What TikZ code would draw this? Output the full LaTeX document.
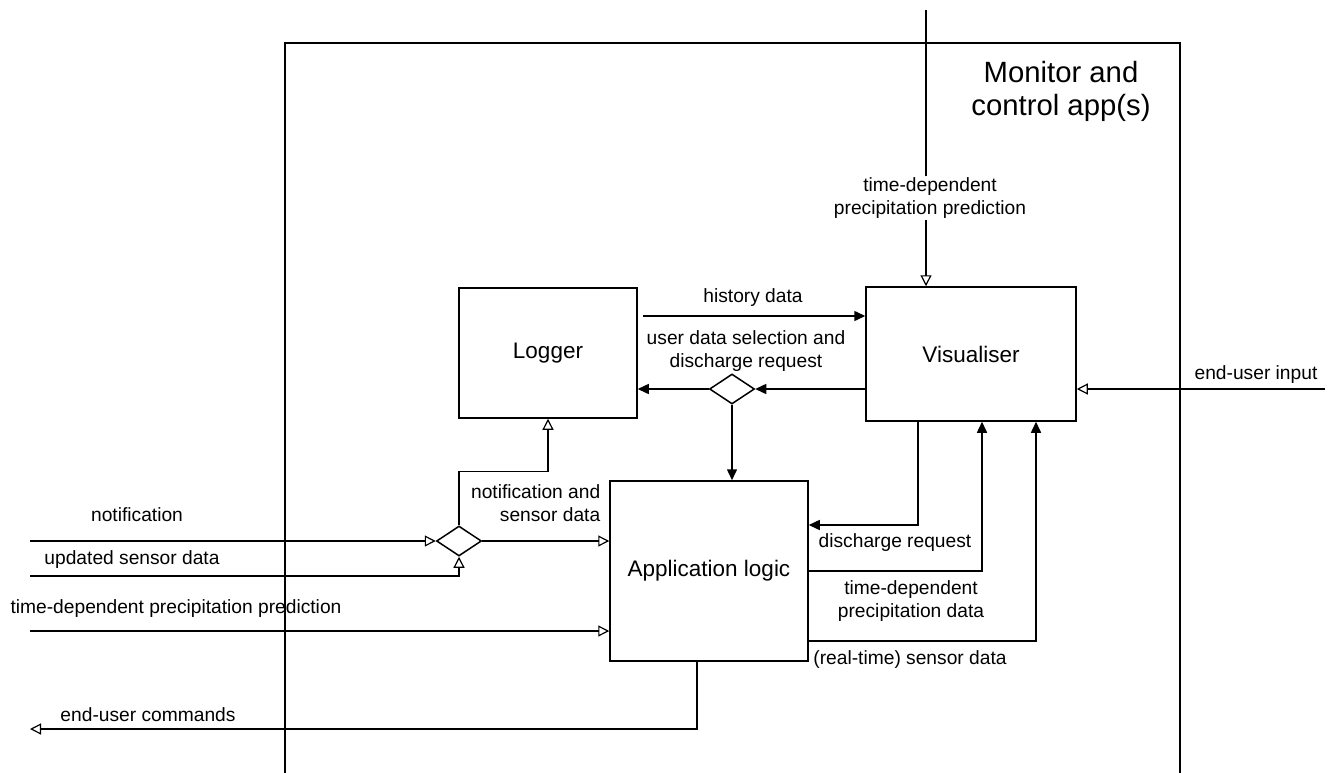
\documentclass[tikz,border=0pt]{standalone}
\usepackage{fontspec}
\setmainfont{Liberation Sans}
\usetikzlibrary{arrows.meta,shapes.geometric,calc}
\begin{document}
\begin{tikzpicture}[x=1pt,y=-1pt,
  line width=1.5pt,
  box/.style={draw,line width=1.5pt,inner sep=0pt,font=\fontsize{22.5}{27}\selectfont},
  junction/.style={draw,line width=1.5pt,shape=diamond,minimum width=45pt,minimum height=30pt,inner sep=0pt},
  lbl/.style={inner sep=1pt,align=center,font=\fontsize{19.2}{23}\selectfont},
  fa/.style={-{Triangle[length=11pt,width=10pt]}},
  oa/.style={-{Triangle[open,length=11pt,width=11pt,line width=1.2pt]}},
  oas/.style={{Triangle[open,length=11pt,width=11pt,line width=1.2pt]}-}]
\useasboundingbox (0,0) rectangle (1330,773);

% container of the applications (open at the bottom)
\draw[line width=1.5pt] (285,773) -- (285,43) -- (1180,43) -- (1180,773);
\node[lbl,font=\fontsize{29.3}{33}\selectfont] (title) at (1061,91) {Monitor and\\control app(s)};

% components
\node[box,minimum width=178pt,minimum height=130pt] (Logger) at (548,353) {Logger};
\node[box,minimum width=210pt,minimum height=134pt] (Vis) at (971,354) {Visualiser};
\node[box,minimum width=198pt,minimum height=180pt] (App) at (709,571) {Application logic};
\node[junction] (D1) at (732,389) {};
\node[junction] (D2) at (459,541) {};

% free ends of external flows
\coordinate (pin) at (926,10);
\coordinate (uin) at (1325,389);
\coordinate (nin) at (30,541);
\coordinate (usd) at (30,576);
\coordinate (ppin) at (30,631);
\coordinate (cmd) at (30,729);
\coordinate (hd) at (643,316);

% external inputs
\draw[oa] (pin) -- (pin |- Vis.north);
\node[lbl,fill=white,inner ysep=2pt] (lpin) at (930,198) {time-dependent\\precipitation prediction};
\draw[oa] (uin) -- (uin -| Vis.east);
\node[lbl] (luin) at (1256,375) {end-user input};
\draw[oa] (nin) -- (D2.west);
\node[lbl] (lnin) at (137,515) {notification};
\draw[oa] (usd) -| (D2.south);
\node[lbl] (lusd) at (132,560) {updated sensor data};
\draw[oa] (ppin) -- (ppin -| App.west);
\node[lbl] (lppin) at (176,609) {time-dependent precipitation prediction};
\draw[oas] (cmd) -| ([xshift=-12pt]App.south);
\node[lbl] (lcmd) at (148,715) {end-user commands};

% logger and visualiser
\draw[fa] (hd) -- (hd -| Vis.west);
\node[lbl] (lhd) at (753,298) {history data};
\draw[fa] (Vis.west |- D1) -- (D1.east);
\draw[fa] (D1.west) -- (D1 -| Logger.east);
\draw[fa] (D1.south) -- (D1 |- App.north);
\node[lbl] (lsel) at (746,351) {user data selection and\\discharge request};

% sensor data junction
\draw[oa] (D2.north) -- ++(0,-54) -| (Logger.south);
\draw[oa] (D2.east) -- (D2 -| App.west);
\node[lbl,align=right,anchor=east] (lns) at (602,503.5) {notification and\\sensor data};

% application logic and visualiser
\draw[fa] ([xshift=-53pt]Vis.south) |- ([yshift=46pt]App.east);
\node[lbl] (ldr) at (895,543) {discharge request};
\draw[fa] (App.east) -| ([xshift=11pt]Vis.south);
\node[lbl] (ltd) at (911,601) {time-dependent\\precipitation data};
\draw[fa] ([yshift=-70pt]App.east) -| ([xshift=65pt]Vis.south);
\node[lbl] (lrt) at (910,660) {(real-time) sensor data};
\end{tikzpicture}
\end{document}
